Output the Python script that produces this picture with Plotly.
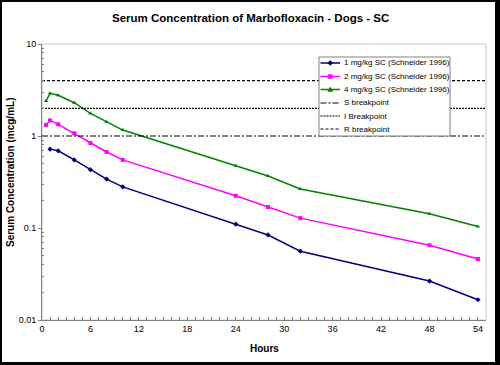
import plotly.graph_objects as go

# ---- data ----
hours_1 = [1, 2, 4, 6, 8, 10, 24, 28, 32, 48, 54]
conc_1 = [0.72, 0.69, 0.55, 0.43, 0.34, 0.28, 0.11, 0.084, 0.056, 0.0265, 0.0166]

hours_2 = [0.5, 1, 2, 4, 6, 8, 10, 24, 28, 32, 48, 54]
conc_2 = [1.32, 1.48, 1.34, 1.07, 0.84, 0.67, 0.55, 0.224, 0.169, 0.128, 0.065, 0.046]

hours_4 = [0.5, 1, 2, 4, 6, 8, 10, 24, 28, 32, 48, 54]
conc_4 = [2.4, 2.91, 2.77, 2.3, 1.76, 1.42, 1.16, 0.475, 0.367, 0.265, 0.143, 0.104]

breakpoint_names = ["S breakpoint", "I Breakpoint", "R breakpoint"]
breakpoint_values = [1, 2, 4]

series_names = ["1 mg/kg SC (Schneider 1996)", "2 mg/kg SC (Schneider 1996)", "4 mg/kg SC (Schneider 1996)"]

x_range = [0, 55]
x_ticks = [0, 6, 12, 18, 24, 30, 36, 42, 48, 54]
y_ticks = [0.01, 0.1, 1, 10]
y_ticklabels = ["0.01", "0.1", "1", "10"]

# ---- styles ----
series_colors = ["#000080", "#FF00FF", "#008000"]
series_symbols = ["diamond", "square", "triangle-up"]
bp_dashes = ["6px,2px,2px,2px", "2px,1px", "3px,2px"]

# ---- layout geometry (pixels) ----
W, H = 500, 365
L, R, T, B = 42, 486, 44, 320
pw, ph = R - L, B - T

def px_x(p):
    return (p - L) / pw

def px_y(p):
    return (B - p) / ph

FONT = "Liberation Sans, Arial, sans-serif"

fig = go.Figure()

all_hours = [hours_1, hours_2, hours_4]
all_conc = [conc_1, conc_2, conc_4]
for hx, cy, nm, col, sym in zip(all_hours, all_conc, series_names, series_colors, series_symbols):
    fig.add_trace(go.Scatter(x=hx, y=cy, name=nm, mode="lines+markers",
                             line=dict(color=col, width=1.5),
                             marker=dict(symbol=sym, size=4, color=col),
                             showlegend=False))

for name, val, d in zip(breakpoint_names, breakpoint_values, bp_dashes):
    fig.add_trace(go.Scatter(x=x_range, y=[val, val], name=name, mode="lines",
                             line=dict(color="black", width=1.2, dash=d),
                             showlegend=False))

shapes = [
    # white chart area inside black frame
    dict(type="rect", xref="paper", yref="paper", layer="below",
         x0=px_x(2), x1=px_x(495), y0=px_y(362), y1=px_y(2),
         fillcolor="white", line=dict(width=0)),
    # plot area border
    dict(type="rect", xref="paper", yref="paper", layer="below",
         x0=0, x1=1, y0=0, y1=1, fillcolor="white",
         line=dict(color="#c8c8c8", width=1)),
]

# ---- custom legend (Excel-like compact box) ----
LG_L, LG_R, LG_T, LG_B = 319, 450, 57, 136
row_y = [63, 76.5, 89.5, 103, 116, 129]
samp_x0, samp_x1, text_x = 320.5, 340, 342
shapes.append(dict(type="rect", xref="paper", yref="paper", layer="above",
                   x0=px_x(LG_L), x1=px_x(LG_R), y0=px_y(LG_B), y1=px_y(LG_T),
                   fillcolor="white", line=dict(color="#808080", width=1)))

annotations = []
legend_names = series_names + breakpoint_names
legend_colors = series_colors + ["black"] * 3
legend_dashes = ["solid"] * 3 + bp_dashes
legend_widths = [1.5] * 3 + [1.2] * 3
for i, (nm, col, dsh, lw) in enumerate(zip(legend_names, legend_colors, legend_dashes, legend_widths)):
    yy = row_y[i]
    shapes.append(dict(type="line", xref="paper", yref="paper", layer="above",
                       x0=px_x(samp_x0), x1=px_x(samp_x1), y0=px_y(yy), y1=px_y(yy),
                       line=dict(color=col, width=lw, dash=dsh)))
    annotations.append(dict(text=nm, xref="paper", yref="paper",
                            x=px_x(text_x), y=px_y(yy), showarrow=False,
                            xanchor="left", yanchor="middle",
                            font=dict(size=8, family=FONT, color="black")))

# legend marker glyphs
cx = (samp_x0 + samp_x1) / 2
def marker_path(sym, cy):
    if sym == "diamond":
        pts = [(cx, cy - 2.5), (cx + 2.5, cy), (cx, cy + 2.5), (cx - 2.5, cy)]
    elif sym == "square":
        pts = [(cx - 2, cy - 2), (cx + 2, cy - 2), (cx + 2, cy + 2), (cx - 2, cy + 2)]
    else:
        pts = [(cx, cy - 2.5), (cx + 2.5, cy + 2), (cx - 2.5, cy + 2)]
    return "M " + " L ".join(f"{px_x(a):.5f},{px_y(b):.5f}" for a, b in pts) + " Z"

for i, (sym, col) in enumerate(zip(series_symbols, series_colors)):
    shapes.append(dict(type="path", xref="paper", yref="paper", layer="above",
                       path=marker_path(sym, row_y[i]),
                       fillcolor=col, line=dict(color=col, width=0.5)))

annotations += [
    dict(text="<b>Serum Concentration of Marbofloxacin - Dogs - SC</b>",
         xref="paper", yref="paper", x=px_x(250), y=px_y(18),
         showarrow=False, font=dict(size=11.5, family=FONT),
         xanchor="center", yanchor="middle"),
    dict(text="<b>Serum Concentration (mcg/mL)</b>",
         xref="paper", yref="paper", x=px_x(10), y=px_y(173),
         showarrow=False, textangle=-90, font=dict(size=10, family=FONT),
         xanchor="center", yanchor="middle"),
    dict(text="<b>Hours</b>",
         xref="paper", yref="paper", x=px_x(264), y=px_y(348),
         showarrow=False, font=dict(size=10, family=FONT),
         xanchor="center", yanchor="middle"),
]

minor_y = []
for dec in [0.01, 0.1, 1]:
    for k in range(2, 10):
        minor_y.append(dec * k)

fig.update_layout(
    width=W, height=H,
    margin=dict(l=L, r=W - R, t=T, b=H - B, pad=0),
    paper_bgcolor="black", plot_bgcolor="rgba(0,0,0,0)",
    font=dict(family=FONT, color="black", size=9),
    showlegend=False,
    shapes=shapes,
    annotations=annotations,
)

fig.update_xaxes(range=x_range, tickmode="array", tickvals=x_ticks,
                 showgrid=False, zeroline=False, showline=True,
                 linecolor="#808080", linewidth=1,
                 ticks="inside", ticklen=3, tickcolor="#808080",
                 minor=dict(dtick=1, ticks="inside", ticklen=3, tickcolor="#808080", showgrid=False),
                 tickfont=dict(size=9, family=FONT, color="black"))

fig.update_yaxes(type="log", range=[-2, 1], tickmode="array",
                 tickvals=y_ticks, ticktext=y_ticklabels,
                 showgrid=False, zeroline=False, showline=True,
                 linecolor="#808080", linewidth=1,
                 ticks="outside", ticklen=3, tickcolor="#808080",
                 minor=dict(tickmode="array", tickvals=minor_y, ticks="inside",
                            ticklen=2, tickcolor="#808080", showgrid=False),
                 tickfont=dict(size=9, family=FONT, color="black"))

fig.write_html("out.html", config={"displayModeBar": False},
               post_script="document.body.style.margin='0';document.body.style.padding='0';")
